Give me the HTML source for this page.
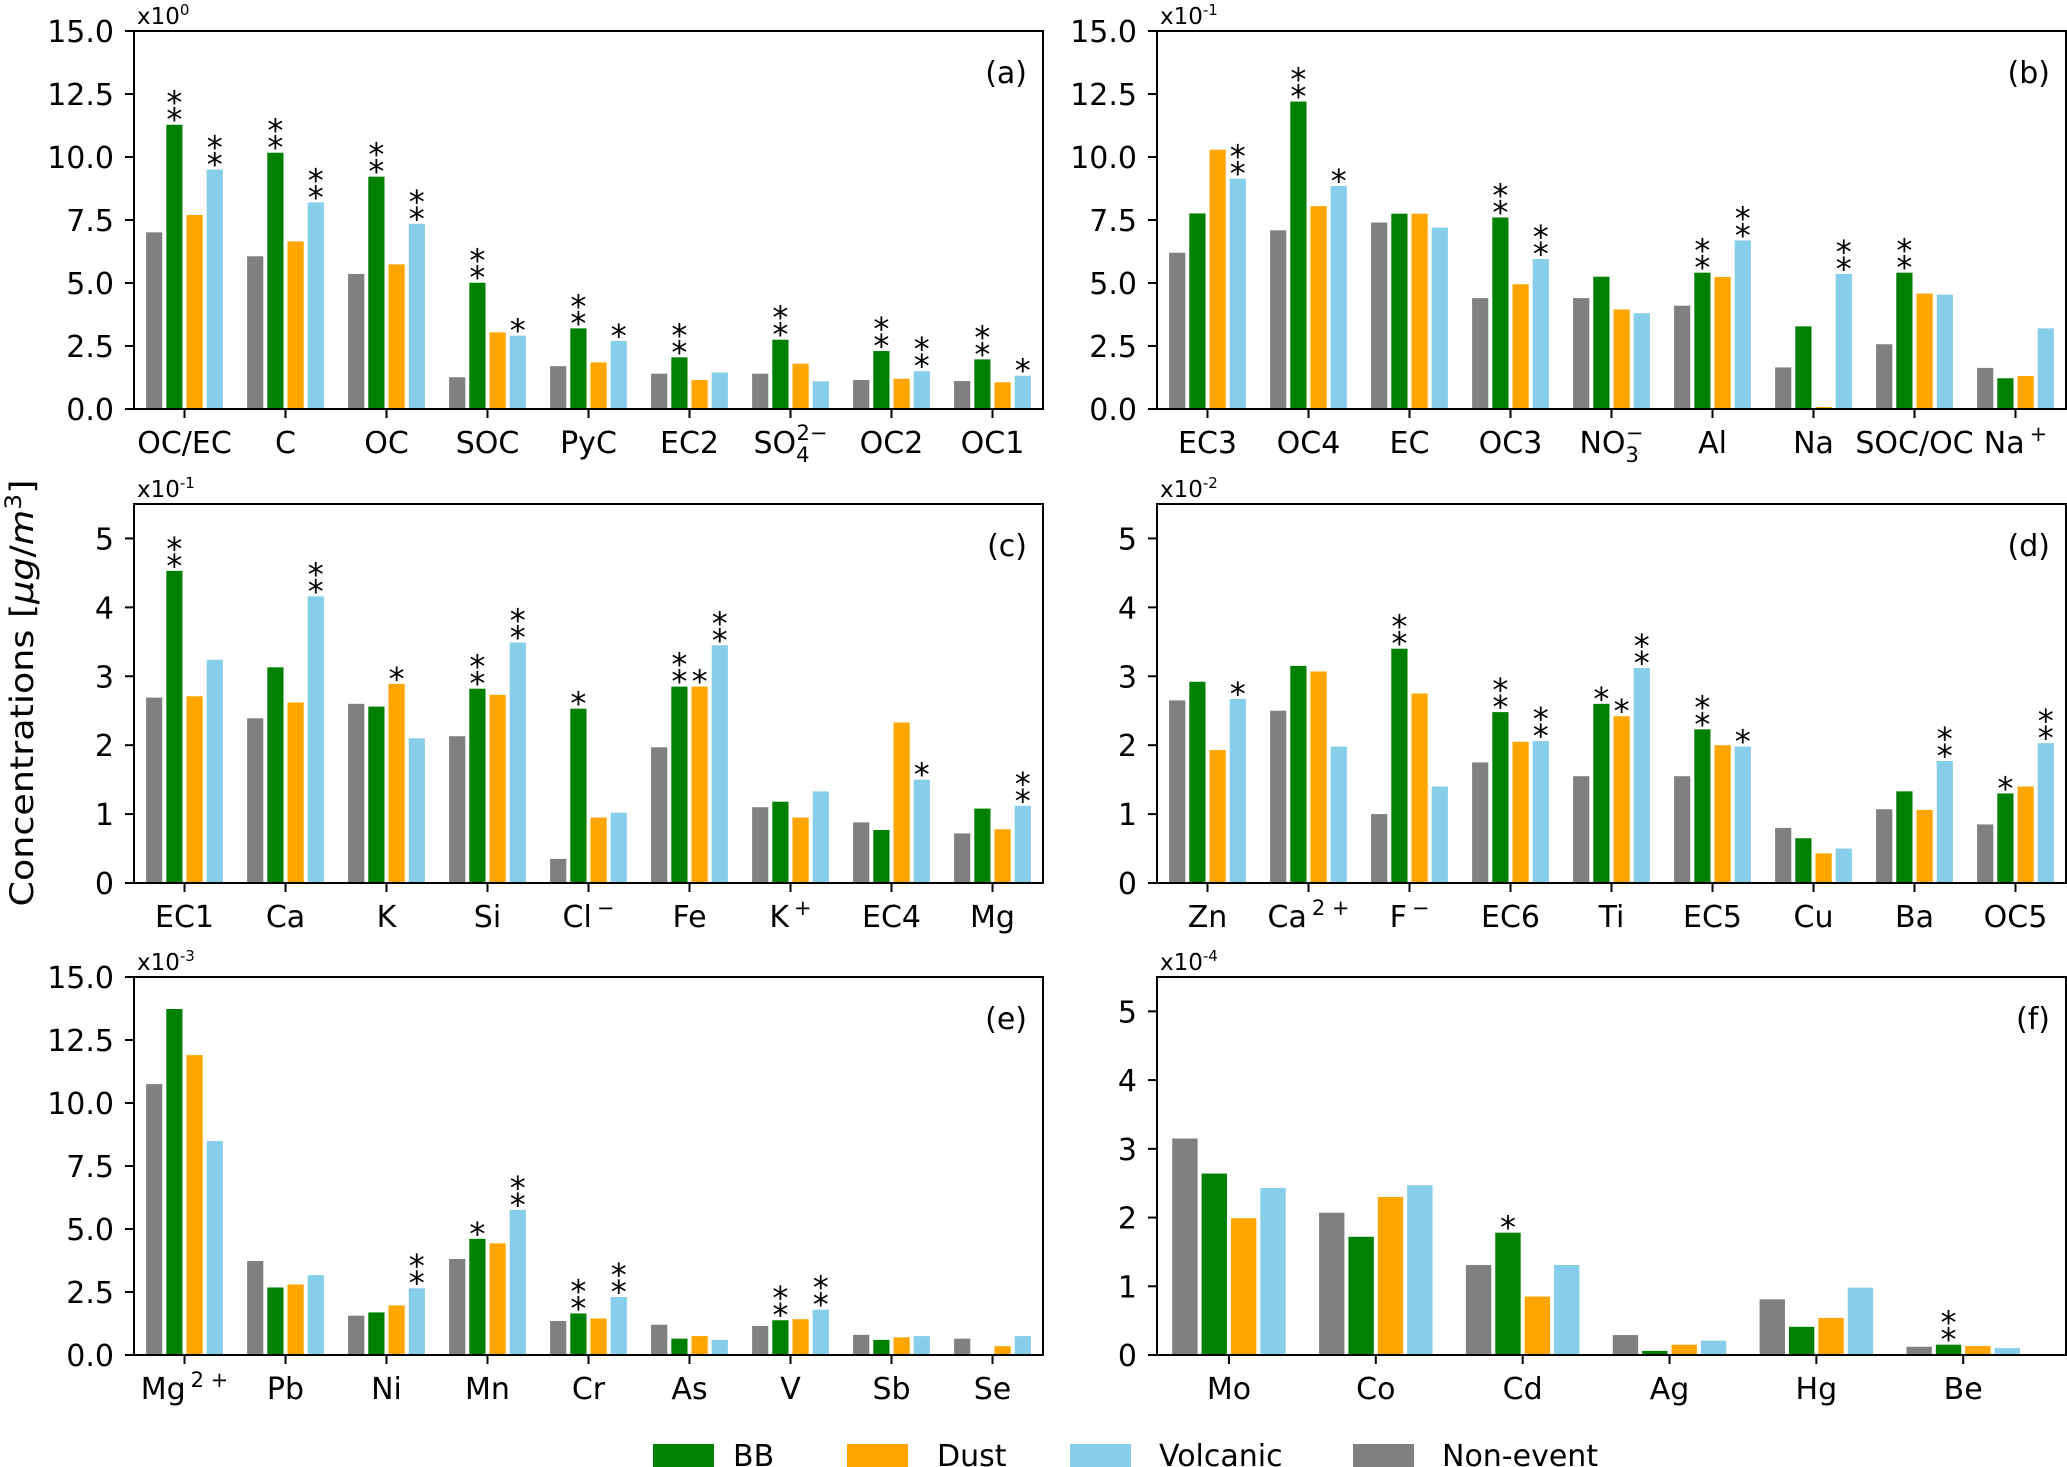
<!DOCTYPE html>
<html><head><meta charset="utf-8"><style>
html,body{margin:0;padding:0;background:#fff;}
svg{display:block;font-family:"DejaVu Sans","Liberation Sans",sans-serif;}
</style></head><body>
<svg id="fig" width="2067" height="1467" viewBox="0 0 2067 1467" xmlns="http://www.w3.org/2000/svg">
<text transform="translate(33,693) rotate(-90)" text-anchor="middle" font-size="32" textLength="427" lengthAdjust="spacingAndGlyphs">Concentrations [<tspan font-style="italic">μg</tspan>/<tspan font-style="italic">m</tspan><tspan dy="-12" font-size="22">3</tspan><tspan dy="12">]</tspan></text>
<g>
<rect x="653" y="1444" width="61" height="24" fill="#008000"/>
<text x="733" y="1466" font-size="30">BB</text>
<rect x="847" y="1444" width="61" height="24" fill="#FFA500"/>
<text x="937" y="1466" font-size="30">Dust</text>
<rect x="1070" y="1444" width="61" height="24" fill="#87CEEB"/>
<text x="1159" y="1466" font-size="30">Volcanic</text>
<rect x="1353" y="1444" width="61" height="24" fill="#808080"/>
<text x="1442" y="1466" font-size="30">Non-event</text>
</g>
</svg>
<script>
// Panel (a)
const catsA = ["OC/EC","C","OC","SOC","PyC","EC2","SO|4|2−","OC2","OC1"];
const nonA = [7.01,6.06,5.36,1.26,1.7,1.4,1.4,1.15,1.11];
const bbA = [11.28,10.17,9.22,5.01,3.2,2.05,2.75,2.3,1.97];
const dustA = [7.7,6.65,5.74,3.04,1.85,1.15,1.8,1.2,1.06];
const volA = [9.5,8.2,7.35,2.91,2.7,1.45,1.1,1.5,1.32];
const starsA = [[0,2,0,2],[0,2,0,2],[0,2,0,2],[0,2,0,1],[0,2,0,1],[0,2,0,0],[0,2,0,0],[0,2,0,2],[0,2,0,1]];
// Panel (b)
const catsB = ["EC3","OC4","EC","OC3","NO|3|−","Al","Na","SOC/OC","Na^+"];
const nonB = [6.2,7.09,7.4,4.4,4.4,4.1,1.65,2.57,1.63];
const bbB = [7.76,12.2,7.75,7.6,5.25,5.41,3.28,5.41,1.22];
const dustB = [10.29,8.05,7.75,4.95,3.95,5.24,0.08,4.58,1.31];
const volB = [9.14,8.85,7.2,5.95,3.8,6.69,5.36,4.54,3.2];
const starsB = [[0,0,0,2],[0,2,0,1],[0,0,0,0],[0,2,0,2],[0,0,0,0],[0,2,0,2],[0,0,0,2],[0,2,0,0],[0,0,0,0]];
// Panel (c)
const catsC = ["EC1","Ca","K","Si","Cl^−","Fe","K^+","EC4","Mg"];
const nonC = [2.69,2.39,2.6,2.13,0.35,1.97,1.1,0.88,0.72];
const bbC = [4.53,3.13,2.56,2.82,2.53,2.85,1.18,0.77,1.08];
const dustC = [2.71,2.62,2.89,2.73,0.95,2.85,0.95,2.33,0.78];
const volC = [3.24,4.16,2.1,3.49,1.02,3.45,1.33,1.5,1.12];
const starsC = [[0,2,0,0],[0,0,0,2],[0,0,1,0],[0,2,0,2],[0,1,0,0],[0,2,1,2],[0,0,0,0],[0,0,0,1],[0,0,0,2]];
// Panel (d)
const catsD = ["Zn","Ca^2 +","F^−","EC6","Ti","EC5","Cu","Ba","OC5"];
const nonD = [2.65,2.5,1.0,1.75,1.55,1.55,0.8,1.07,0.85];
const bbD = [2.92,3.15,3.4,2.48,2.6,2.23,0.65,1.33,1.3];
const dustD = [1.93,3.07,2.75,2.05,2.42,2.0,0.43,1.06,1.4];
const volD = [2.67,1.98,1.4,2.06,3.12,1.98,0.5,1.77,2.03];
const starsD = [[0,0,0,1],[0,0,0,0],[0,2,0,0],[0,2,0,2],[0,1,1,2],[0,2,0,1],[0,0,0,0],[0,0,0,2],[0,1,0,2]];
// Panel (e)
const catsE = ["Mg^2 +","Pb","Ni","Mn","Cr","As","V","Sb","Se"];
const nonE = [10.75,3.73,1.56,3.81,1.35,1.2,1.15,0.8,0.65];
const bbE = [13.73,2.68,1.69,4.61,1.65,0.65,1.38,0.6,0];
const dustE = [11.9,2.8,1.97,4.43,1.45,0.75,1.42,0.7,0.35];
const volE = [8.49,3.17,2.65,5.76,2.3,0.6,1.8,0.75,0.75];
const starsE = [[0,0,0,0],[0,0,0,0],[0,0,0,2],[0,1,0,2],[0,2,0,2],[0,0,0,0],[0,2,0,2],[0,0,0,0],[0,0,0,0]];
// Panel (f)
const catsF = ["Mo","Co","Cd","Ag","Hg","Be"];
const nonF = [3.15,2.07,1.31,0.29,0.81,0.12];
const bbF = [2.64,1.72,1.78,0.06,0.41,0.15];
const dustF = [1.99,2.3,0.85,0.15,0.54,0.13];
const volF = [2.43,2.47,1.31,0.21,0.98,0.1];
const starsF = [[0,0,0,0],[0,0,0,0],[0,1,0,0],[0,0,0,0],[0,0,0,0],[0,2,0,0]];
const ticks15 = ["0.0","2.5","5.0","7.5","10.0","12.5","15.0"];
const ticks5 = ["0","1","2","3","4","5"];

const NS="http://www.w3.org/2000/svg";
const svg=document.getElementById('fig');
const colors=["#808080","#008000","#FFA500","#87CEEB"];
const seriesNames=["non-event","bb","dust","volcanic"];
function mk(tag,attrs,parent){const e=document.createElementNS(NS,tag);for(const k in attrs)e.setAttribute(k,attrs[k]);(parent||svg).appendChild(e);return e;}
function span(t,txt,attrs){const s=document.createElementNS(NS,'tspan');for(const k in attrs)s.setAttribute(k,attrs[k]);s.textContent=txt;t.appendChild(s);return s;}
function label(parent,txt,x,y,size){
  const t=mk('text',{x:x,y:y,'font-size':size,'text-anchor':'middle'},parent);
  if(txt.includes('|')){
    const [base,sub,sup]=txt.split('|');
    span(t,base,{});
    span(t,sub,{'font-size':size*0.7,dy:9});
    span(t,sup,{'font-size':size*0.7,dy:-22,dx:-size*0.7*0.62});
    span(t,'\u200b',{dy:13});
  } else if(txt.includes('^')){
    const [base,sup]=txt.split('^');
    span(t,base,{});
    span(t,sup,{'font-size':size*0.7,dy:-12,dx:5});
  } else span(t,txt,{});
  return t;
}
function panel(id,L,T,R,B,ymax,tickLabels,tickStep,xmin,xmax,cats,series,stars,exp){
  const g=mk('g',{});
  
  
  const xs=v=>L+(v-xmin)/(xmax-xmin)*(R-L);
  const ys=v=>B-v/ymax*(B-T);
  const sp=xs(1)-xs(0), w=0.2*sp;
  cats.forEach((c,i)=>{
    for(let s=0;s<4;s++){
      const v=series[s][i];
      const cx=xs(i)+(s-1.5)*w;
      const r=mk('rect',{x:cx-w/2+2,y:ys(v),width:w-4,height:Math.max(0,B-ys(v)),fill:colors[s]},g);
      
      
      const n=stars[i][s];
      for(let k=0;k<n;k++){
        const st=mk('text',{x:cx,y:ys(v)-13-k*17+19,'font-size':32,'text-anchor':'middle'},g);
        st.textContent='*';
        
        
      }
    }
    mk('line',{x1:xs(i),x2:xs(i),y1:B,y2:B+9,stroke:'#000','stroke-width':2},g);
    const tl=label(g,c,xs(i),B+44,30);
    
    
  });
  tickLabels.forEach((t,j)=>{
    const y=ys(j*tickStep);
    mk('line',{x1:L-9,x2:L,y1:y,y2:y,stroke:'#000','stroke-width':2},g);
    const tt=mk('text',{x:L-20,y:y+11,'font-size':30,'text-anchor':'end'},g);
    tt.textContent=t;
    
    
  });
  const fr=mk('rect',{x:L,y:T,width:R-L,height:B-T,fill:'none',stroke:'#000','stroke-width':2},g);
  
  
  const pl=mk('text',{x:R-16,y:T+52,'font-size':30,'text-anchor':'end'},g);
  pl.textContent='('+id+')';
  
  
  const ex=mk('text',{x:L+3,y:T-7,'font-size':23},g);
  
  
  span(ex,'x10',{});
  span(ex,exp,{dy:-9,'font-size':15});
}
panel('a',134,31,1043,409,15,ticks15,2.5,-0.5,8.5,catsA,[nonA,bbA,dustA,volA],starsA,'0');
panel('b',1157,31,2066,409,15,ticks15,2.5,-0.5,8.5,catsB,[nonB,bbB,dustB,volB],starsB,'-1');
panel('c',134,504,1043,883,5.5,ticks5,1,-0.5,8.5,catsC,[nonC,bbC,dustC,volC],starsC,'-1');
panel('d',1157,504,2066,883,5.5,ticks5,1,-0.5,8.5,catsD,[nonD,bbD,dustD,volD],starsD,'-2');
panel('e',134,977,1043,1355,15,ticks15,2.5,-0.5,8.5,catsE,[nonE,bbE,dustE,volE],starsE,'-3');
panel('f',1157,977,2066,1355,5.5,ticks5,1,-0.49,5.7,catsF,[nonF,bbF,dustF,volF],starsF,'-4');
</script>
</body></html>
